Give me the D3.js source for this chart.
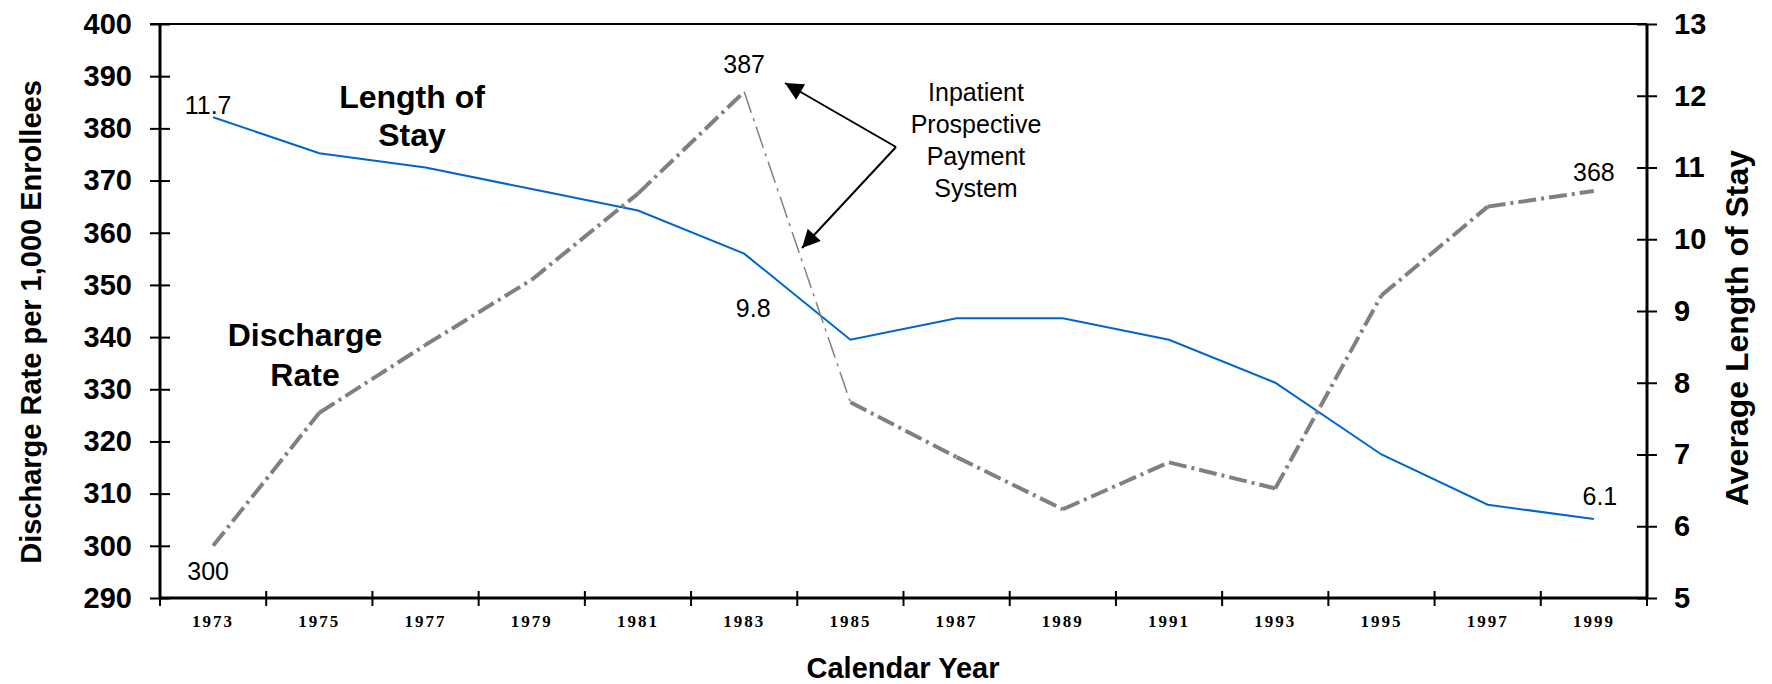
<!DOCTYPE html>
<html>
<head>
<meta charset="utf-8">
<script src="https://cdn.jsdelivr.net/npm/d3@7"></script>
<style>
  html, body { margin: 0; padding: 0; background: #fff; }
  svg { display: block; }
  text { font-family: "Liberation Sans", Arial, Helvetica, sans-serif; fill: #000; }
</style>
</head>
<body>
<svg id="chart" width="1772" height="684"></svg>
<script>
// ---------- data ----------
const years = [1973, 1975, 1977, 1979, 1981, 1983, 1985, 1987, 1989, 1991, 1993, 1995, 1997, 1999];
const dischargeRate = [300, 325.5, 338.5, 351, 367.5, 387, 327.5, 317, 307, 316, 311, 348, 365, 368];
const lengthOfStay = [11.7, 11.2, 11.0, 10.7, 10.4, 9.8, 8.6, 8.9, 8.9, 8.6, 8.0, 7.0, 6.3, 6.1];
const leftTicks = [290, 300, 310, 320, 330, 340, 350, 360, 370, 380, 390, 400];
const rightTicks = [5, 6, 7, 8, 9, 10, 11, 12, 13];
const leftTitle = "Discharge Rate per 1,000 Enrollees";
const rightTitle = "Average Length of Stay";
const xTitle = "Calendar Year";
const losLabel = ["Length of", "Stay"];
const drLabel = ["Discharge", "Rate"];
const annotation = ["Inpatient", "Prospective", "Payment", "System"];
// data labels: which series and which year
const labelDischarge = [1973, 1983, 1999];
const labelLOS = [1973, 1983, 1999];

// ---------- layout ----------
const svg = d3.select("#chart");
const L = 160, R = 1647, T = 24, B = 598;

const x = d3.scaleBand().domain(years).range([L, R]);
const yL = d3.scaleLinear().domain([290, 400]).range([B, T]);
const yR = d3.scaleLinear().domain([5, 13]).range([B, T]);
const cx = d => x(d) + x.bandwidth() / 2;

// top border
svg.append("line").attr("x1", L - 10).attr("x2", R).attr("y1", T).attr("y2", T)
  .attr("stroke", "#000").attr("stroke-width", 2);

// left axis
const gL = svg.append("g").attr("transform", `translate(${L},0)`)
  .call(d3.axisLeft(yL).tickValues(leftTicks).tickSize(10).tickPadding(18).tickFormat(d3.format("d")));
gL.select(".domain").attr("stroke-width", 3).attr("d", `M0,${T}V${B}`);
gL.selectAll(".tick line").attr("x1", 10).attr("stroke-width", 2);
gL.selectAll(".tick text").style("font-size", "29px").style("font-weight", "bold")
  .style("font-family", "'Liberation Sans', Arial, sans-serif");

// right axis
const gR = svg.append("g").attr("transform", `translate(${R},0)`)
  .call(d3.axisRight(yR).tickValues(rightTicks).tickSize(10).tickPadding(17).tickFormat(d3.format("d")));
gR.select(".domain").attr("stroke-width", 3).attr("d", `M0,${T}V${B}`);
gR.selectAll(".tick line").attr("x1", -10).attr("stroke-width", 2);
gR.selectAll(".tick text").style("font-size", "29px").style("font-weight", "bold")
  .style("font-family", "'Liberation Sans', Arial, sans-serif");

// bottom axis (labels at band centres)
const gB = svg.append("g").attr("transform", `translate(0,${B})`)
  .call(d3.axisBottom(x).tickSize(0).tickPadding(17));
gB.select(".domain").attr("stroke-width", 3).attr("d", `M${L},0H${R}`);
gB.selectAll(".tick text")
  .style("font-family", "'Liberation Serif', 'Times New Roman', serif")
  .style("font-weight", "bold").style("font-size", "17px").style("letter-spacing", "2px");
// boundary ticks
const bounds = years.map(d => x(d)).concat([x.range()[1]]);
svg.append("g").selectAll("line").data(bounds).join("line")
  .attr("x1", d => d).attr("x2", d => d).attr("y1", B - 7).attr("y2", B + 8)
  .attr("stroke", "#000").attr("stroke-width", 2);

// ---------- series ----------
const losLine = d3.line().x((d, i) => cx(years[i])).y(d => yR(d));
svg.append("path").datum(lengthOfStay).attr("d", losLine)
  .attr("fill", "none").attr("stroke", "#0066CC").attr("stroke-width", 2);

// discharge rate drawn segment by segment (steep 1983-85 drop is rendered thin)
const drPts = dischargeRate.map((v, i) => [cx(years[i]), yL(v)]);
for (let i = 0; i < drPts.length - 1; i++) {
  const steep = Math.abs(drPts[i + 1][1] - drPts[i][1]) > 200;
  svg.append("path").attr("d", d3.line()([drPts[i], drPts[i + 1]]))
    .attr("fill", "none").attr("stroke", "#808080")
    .attr("stroke-width", steep ? 1.5 : 4)
    .attr("stroke-dasharray", steep ? "22,6,3,6" : "18,5,3,5");
}

// ---------- data labels ----------
const fmt = d3.format("");
const drOff = { 1973: [-5, 34], 1983: [0, -19], 1999: [0, -10] };
labelDischarge.forEach(yr => {
  const i = years.indexOf(yr);
  svg.append("text").attr("x", cx(yr) + drOff[yr][0]).attr("y", yL(dischargeRate[i]) + drOff[yr][1])
    .attr("text-anchor", "middle").style("font-size", "25px").text(fmt(dischargeRate[i]));
});
const losOff = { 1973: [-5, -3], 1983: [9, 63], 1999: [6, -14] };
labelLOS.forEach(yr => {
  const i = years.indexOf(yr);
  svg.append("text").attr("x", cx(yr) + losOff[yr][0]).attr("y", yR(lengthOfStay[i]) + losOff[yr][1])
    .attr("text-anchor", "middle").style("font-size", "25px").text(fmt(lengthOfStay[i]));
});

// ---------- series names ----------
svg.append("text").attr("text-anchor", "middle").style("font-size", "32px").style("font-weight", "bold")
  .selectAll("tspan").data(losLabel).join("tspan")
  .attr("x", 412).attr("y", (d, i) => 108 + i * 38).text(d => d);
svg.append("text").attr("text-anchor", "middle").style("font-size", "32px").style("font-weight", "bold")
  .selectAll("tspan").data(drLabel).join("tspan")
  .attr("x", 305).attr("y", (d, i) => 346 + i * 40).text(d => d);

// ---------- annotation ----------
svg.append("text").attr("text-anchor", "middle").style("font-size", "25px")
  .selectAll("tspan").data(annotation).join("tspan")
  .attr("x", 976).attr("y", (d, i) => 101 + i * 32).text(d => d);

const defs = svg.append("defs");
defs.append("marker").attr("id", "ah").attr("viewBox", "0 0 10 10").attr("refX", 10).attr("refY", 5)
  .attr("markerUnits", "userSpaceOnUse").attr("markerWidth", 24).attr("markerHeight", 18)
  .attr("orient", "auto").append("path").attr("d", "M0,0L10,5L0,10Z").attr("fill", "#000");
const hub = [896, 147];
[[785, 83], [802, 248]].forEach(tip => {
  svg.append("line").attr("x1", hub[0]).attr("y1", hub[1]).attr("x2", tip[0]).attr("y2", tip[1])
    .attr("stroke", "#000").attr("stroke-width", 2).attr("marker-end", "url(#ah)");
});

// ---------- axis titles ----------
svg.append("text").attr("x", 903).attr("y", 678).attr("text-anchor", "middle")
  .style("font-size", "29px").style("font-weight", "bold").text(xTitle);
svg.append("text").attr("transform", "translate(41,322) rotate(-90)").attr("text-anchor", "middle")
  .style("font-size", "29px").style("font-weight", "bold").text(leftTitle);
svg.append("text").attr("transform", "translate(1748,328) rotate(-90)").attr("text-anchor", "middle")
  .style("font-size", "32px").style("font-weight", "bold").text(rightTitle);
</script>
</body>
</html>
